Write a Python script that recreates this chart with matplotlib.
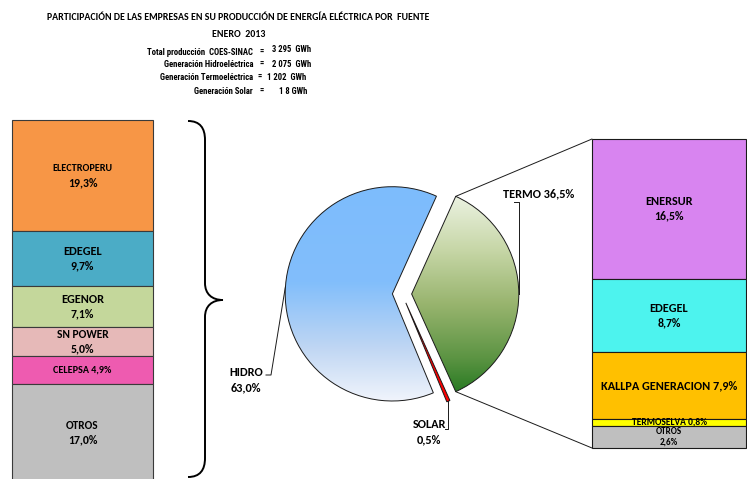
import matplotlib
matplotlib.use('Agg')
import matplotlib.pyplot as plt
import numpy as np
from matplotlib import font_manager
from matplotlib.colors import LinearSegmentedColormap
from matplotlib.patches import ConnectionPatch, PathPatch
from matplotlib.path import Path

# ---- data ----
title = 'PARTICIPACIÓN DE LAS EMPRESAS EN SU PRODUCCIÓN DE ENERGÍA ELÉCTRICA POR  FUENTE'
subtitle = 'ENERO  2013'
stat_labels = ['Total producción  COES-SINAC', 'Generación Hidroeléctrica',
               'Generación Termoeléctrica', 'Generación Solar']
stat_values = ['3 295  GWh', '2 075  GWh', '1 202  GWh', '1 8 GWh']

source_names = ['HIDRO', 'SOLAR', 'TERMO']
source_values = [63.0, 0.5, 36.5]

hidro_names = ['ELECTROPERU', 'EDEGEL', 'EGENOR', 'SN POWER', 'CELEPSA', 'OTROS']
hidro_values = [19.3, 9.7, 7.1, 5.0, 4.9, 17.0]
hidro_colors = ['#F79646', '#4BACC6', '#C4D79B', '#E6B9B8', '#EE5BB0', '#BFBFBF']

termo_names = ['ENERSUR', 'EDEGEL', 'KALLPA GENERACION', 'TERMOSELVA', 'OTROS']
termo_values = [16.5, 8.7, 7.9, 0.8, 2.6]
termo_colors = ['#D884F0', '#4DF3EE', '#FFC000', '#FFFF00', '#BFBFBF']

# label styles: (layout, name size, pct size)
hidro_styles = [('two', 7.3, 8.5), ('two', 8.8, 8.5), ('two', 8.8, 8.5),
                ('two', 8.3, 8.5), ('one', 7.3, 7.3), ('two', 8.2, 8.5)]
termo_styles = [('two', 8.8, 8.5), ('two', 8.8, 8.5), ('one', 8.8, 8.8),
                ('one', 6.8, 6.8), ('two', 6.5, 6.5)]

W, H = 747, 479

# pick the narrowest suitable family that is installed
avail = {f.name for f in font_manager.fontManager.ttflist}


def pick(*names):
    for n in names:
        if n in avail:
            return [n, 'DejaVu Sans']
    return ['DejaVu Sans']


FONT = pick('Carlito', 'Lato', 'Open Sans')
NARROW = pick('Liberation Sans Narrow', 'Roboto Condensed', 'Carlito', 'Roboto', 'Lato')


def pct(v):
    return f'{v:.1f}'.replace('.', ',') + '%'


def frac(x0, y0, x1, y1):
    return [x0 / W, 1 - y1 / H, (x1 - x0) / W, (y1 - y0) / H]


fig = plt.figure(figsize=(W / 100, H / 100), dpi=100)
renderer = fig.canvas.get_renderer()


def fit_width(t, target):
    w = t.get_window_extent(renderer).width
    t.set_fontsize(t.get_fontsize() * target / w)
    return t.get_fontsize()


# overlay axes in pixel coordinates for text and decorations
ax_bg = fig.add_axes([0, 0, 1, 1])
ax_bg.set_xlim(0, W)
ax_bg.set_ylim(H, 0)
ax_bg.axis('off')

t = ax_bg.text(238, 17, title, ha='center', va='center', fontsize=9, fontweight='bold', family=FONT)
ts = fit_width(t, 383)
ax_bg.text(239, 34, subtitle, ha='center', va='center', fontsize=ts, fontweight='bold', family=FONT)

stat_y = [52, 64, 77, 91]
eq_x = [262, 262, 260, 262]
val_x = [272, 272, 267, 279]
val_dy = [-3, 0, 0, 0]
t = ax_bg.text(253, stat_y[0], stat_labels[0], ha='right', va='center', fontsize=7,
               fontweight='bold', family=NARROW)
ss = fit_width(t, 108)
for lab, y in zip(stat_labels[1:], stat_y[1:]):
    ax_bg.text(253, y, lab, ha='right', va='center', fontsize=ss, fontweight='bold', family=NARROW)
for val, y, ex, vx, dy in zip(stat_values, stat_y, eq_x, val_x, val_dy):
    ax_bg.text(ex, y, '=', ha='center', va='center', fontsize=ss, fontweight='bold', family=NARROW)
    ax_bg.text(vx, y + dy, val, ha='left', va='center', fontsize=ss, fontweight='bold', family=NARROW)


def stacked_bar(ax, names, values, colors, styles, edge):
    bottoms = np.concatenate([[0], np.cumsum(values)[:-1]])
    ax.bar(0, values, bottom=bottoms, width=1, color=colors, edgecolor=edge,
           linewidth=0.8, clip_on=False)
    ax.set_xlim(-0.5, 0.5)
    ax.set_ylim(sum(values), 0)
    ax.axis('off')
    for name, v, b, (lay, s1, s2) in zip(names, values, bottoms, styles):
        mid = b + v / 2
        if lay == 'one':
            ax.text(0, mid, f'{name} {pct(v)}', ha='center', va='center',
                    fontsize=s1, fontweight='bold', family=FONT)
        else:
            off = 5.3 if s1 > 7 else 3.8
            ax.annotate(name, (0, mid), xytext=(0, off), textcoords='offset points',
                        ha='center', va='center', fontsize=s1, fontweight='bold', family=FONT)
            ax.annotate(pct(v), (0, mid), xytext=(0, -off), textcoords='offset points',
                        ha='center', va='center', fontsize=s2, fontweight='bold', family=FONT)


ax_l = fig.add_axes(frac(12, 120, 153, 120 + 5.74 * sum(hidro_values)))
stacked_bar(ax_l, hidro_names, hidro_values, hidro_colors, hidro_styles, '#3a3a3a')

ax_r = fig.add_axes(frac(592, 139, 746, 448))
stacked_bar(ax_r, termo_names, termo_values, termo_colors, termo_styles, '#1a1a1a')

# ---- pie ----
ax_p = fig.add_axes(frac(252, 144, 552, 444))
start = 180 * source_values[2] / sum(source_values)
wedges, _ = ax_p.pie(source_values, colors=['none', '#FF0000', 'none'], startangle=start,
                     explode=[0.09] * 3, radius=1,
                     wedgeprops=dict(edgecolor='#1a1a1a', linewidth=0.7))

hidro_cmap = LinearSegmentedColormap.from_list(
    'h', [(0, '#7DBCFD'), (0.45, '#82BEFB'), (0.75, '#BFD6F3'), (1, '#F0F4FC')])
termo_cmap = LinearSegmentedColormap.from_list(
    't', [(0, '#F2F7EC'), (0.3, '#C6D6A6'), (0.55, '#98B46E'), (0.8, '#5C9443'), (1, '#1B741B')])
grad = np.linspace(0, 1, 256).reshape(-1, 1)
for w, cmap in [(wedges[0], hidro_cmap), (wedges[2], termo_cmap)]:
    cx, cy = w.center
    r = w.r
    im = ax_p.imshow(grad, cmap=cmap, extent=(cx - r, cx + r, cy - r, cy + r),
                     origin='upper', aspect='auto', zorder=0.5)
    im.set_clip_path(w)
ax_p.set_xlim(-1.4, 1.4)
ax_p.set_ylim(-1.4, 1.4)
ax_p.axis('off')


def edge_pt(w, ang):
    cx, cy = w.center
    p = (cx + w.r * np.cos(np.radians(ang)), cy + w.r * np.sin(np.radians(ang)))
    disp = ax_p.transData.transform(p)
    return ax_bg.transData.inverted().transform(disp)


hidro_w, solar_w, termo_w = wedges
lc = dict(color='#1a1a1a', lw=0.7)
lab_kw = dict(fontsize=8.8, fontweight='bold', family=FONT)

e = edge_pt(hidro_w, 176)
ax_bg.plot([266, 271, e[0]], [375, 375, e[1]], **lc)
ax_bg.text(246, 373, source_names[0], ha='center', va='center', **lab_kw)
ax_bg.text(246, 388, pct(source_values[0]), ha='center', va='center', **lab_kw)

e = edge_pt(termo_w, 0)
ax_bg.plot([e[0] - 5, e[0], e[0]], [202, 202, e[1]], **lc)
ax_bg.text(503, 194, f'{source_names[2]} {pct(source_values[2])}', ha='left', va='center', **lab_kw)

e = edge_pt(solar_w, (solar_w.theta1 + solar_w.theta2) / 2)
ax_bg.plot([e[0], e[0], e[0] - 3], [e[1], 429, 429], **lc)
ax_bg.text(429, 424, source_names[1], ha='center', va='center', **lab_kw)
ax_bg.text(429, 440, pct(source_values[1]), ha='center', va='center', **lab_kw)

# connectors from the termo wedge to the right bar
cx, cy = termo_w.center
for ang, yb in [(termo_w.theta2, 0), (termo_w.theta1, sum(termo_values))]:
    pa = (cx + termo_w.r * np.cos(np.radians(ang)), cy + termo_w.r * np.sin(np.radians(ang)))
    con = ConnectionPatch(xyA=pa, coordsA=ax_p.transData, xyB=(-0.5, yb), coordsB=ax_r.transData,
                          color='#1a1a1a', lw=0.7)
    fig.add_artist(con)

# curly brace next to the hidro bar
verts = [(188, 121), (200, 121), (205, 128), (205, 140),
         (205, 283),
         (205, 294), (212, 300), (223, 300),
         (212, 300), (205, 306), (205, 317),
         (205, 458),
         (205, 470), (200, 477), (188, 477)]
codes = [Path.MOVETO, Path.CURVE4, Path.CURVE4, Path.CURVE4,
         Path.LINETO,
         Path.CURVE4, Path.CURVE4, Path.CURVE4,
         Path.CURVE4, Path.CURVE4, Path.CURVE4,
         Path.LINETO,
         Path.CURVE4, Path.CURVE4, Path.CURVE4]
ax_bg.add_patch(PathPatch(Path(verts, codes), facecolor='none', edgecolor='black', lw=1.4))

fig.savefig('out.png', dpi=100)
